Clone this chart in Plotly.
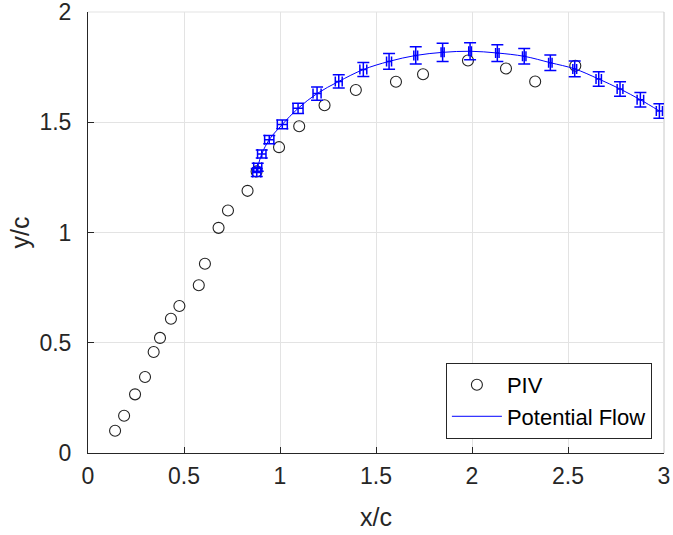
import plotly.graph_objects as go

# PIV measurements
piv_x = [0.141, 0.188, 0.245, 0.297, 0.342, 0.375, 0.432, 0.476, 0.577, 0.609,
         0.680, 0.729, 0.831, 0.878, 0.995, 1.100, 1.232, 1.395, 1.604, 1.745,
         1.979, 2.177, 2.329, 2.538]
piv_y = [0.101, 0.169, 0.266, 0.345, 0.458, 0.522, 0.609, 0.667, 0.761, 0.858,
         1.021, 1.100, 1.189, 1.277, 1.387, 1.482, 1.577, 1.646, 1.684, 1.718,
         1.780, 1.744, 1.685, 1.756]

# Potential flow prediction with uncertainty
pf_x = [0.879, 0.884, 0.905, 0.944, 1.012, 1.094, 1.193, 1.306, 1.434, 1.568,
        1.707, 1.847, 1.990, 2.132, 2.272, 2.408, 2.535, 2.660, 2.771, 2.877, 2.976]
pf_y = [1.272, 1.296, 1.356, 1.421, 1.490, 1.563, 1.630, 1.685, 1.739, 1.776,
        1.803, 1.817, 1.822, 1.814, 1.799, 1.770, 1.742, 1.696, 1.651, 1.602, 1.551]
pf_ex = [0.021, 0.021, 0.022, 0.024, 0.026, 0.026, 0.021, 0.018, 0.018, 0.013,
         0.010, 0.008, 0.007, 0.009, 0.009, 0.009, 0.010, 0.014, 0.015, 0.017, 0.016]
pf_ey = [0.018, 0.018, 0.018, 0.019, 0.020, 0.023, 0.030, 0.030, 0.032, 0.036,
         0.039, 0.041, 0.039, 0.038, 0.035, 0.035, 0.036, 0.033, 0.033, 0.033, 0.033]

x_ticks = [0, 0.5, 1, 1.5, 2, 2.5, 3]
x_tick_labels = ["0", "0.5", "1", "1.5", "2", "2.5", "3"]
y_ticks = [0, 0.5, 1, 1.5, 2]
y_tick_labels = ["0", "0.5", "1", "1.5", "2"]

axis_col = "#262626"
grid_col = "#e3e3e3"
blue = "#0000ff"
font = "Liberation Sans, Arial, sans-serif"

fig = go.Figure()
fig.add_trace(go.Scatter(
    x=piv_x, y=piv_y, mode="markers", name="PIV",
    marker=dict(symbol="circle-open", size=11, color="#222222",
                line=dict(width=1.1, color="#222222")),
))
fig.add_trace(go.Scatter(
    x=pf_x, y=pf_y, mode="lines", name="Potential Flow",
    line=dict(color=blue, width=1, shape="spline"),
    error_x=dict(type="data", array=pf_ex, visible=True, color=blue,
                 thickness=1.5, width=5),
    error_y=dict(type="data", array=pf_ey, visible=True, color=blue,
                 thickness=1.5, width=6),
))

# plot-area frame lines on the top and right edges (grid-coloured)
fig.add_shape(type="line", xref="paper", yref="paper", x0=0, x1=1, y0=1, y1=1,
              line=dict(color=grid_col, width=1), layer="below")
fig.add_shape(type="line", xref="paper", yref="paper", x0=1, x1=1, y0=0, y1=1,
              line=dict(color="#c8c8c8", width=1), layer="below")

fig.update_layout(
    width=673, height=535,
    margin=dict(l=88, r=9, t=12, b=82),
    paper_bgcolor="white", plot_bgcolor="white",
    font=dict(family=font, size=23, color=axis_col),
    showlegend=True,
    legend=dict(
        x=0.979, y=0.032, xanchor="right", yanchor="bottom",
        bgcolor="white", bordercolor=axis_col, borderwidth=1,
        font=dict(family=font, size=22, color="#000000"),
        itemwidth=50, tracegroupgap=0,
    ),
    xaxis=dict(
        range=[0, 3], tickvals=x_ticks, ticktext=x_tick_labels,
        automargin=False, ticklabeloverflow="allow",
        showgrid=True, gridcolor=grid_col, gridwidth=1,
        showline=True, linecolor=axis_col, linewidth=1, mirror=False,
        ticks="inside", ticklen=6, tickcolor=axis_col,
        zeroline=False, ticklabelstandoff=2,
        title=dict(text="x/c", font=dict(size=25, color=axis_col), standoff=20),
    ),
    yaxis=dict(
        range=[0, 2], tickvals=y_ticks, ticktext=y_tick_labels,
        automargin=False, ticklabeloverflow="allow",
        showgrid=True, gridcolor=grid_col, gridwidth=1,
        showline=True, linecolor=axis_col, linewidth=1, mirror=False,
        ticks="inside", ticklen=6, tickcolor=axis_col,
        zeroline=False, ticklabelstandoff=11,
        title=dict(text="y/c", font=dict(size=25, color=axis_col), standoff=2),
    ),
)

fig.write_html("out.html")
